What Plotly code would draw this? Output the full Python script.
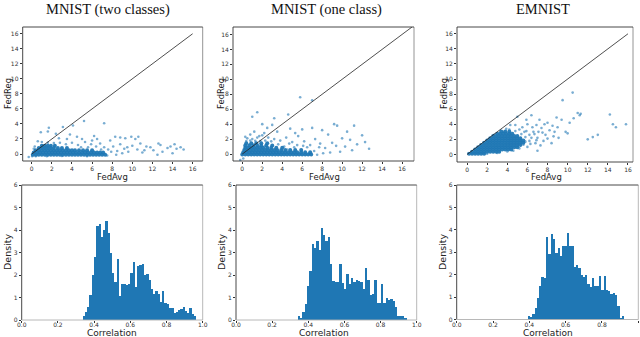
import numpy as np
import plotly.graph_objects as go

# ---------------- data ----------------
panel_titles = ["MNIST (two classes)", "MNIST (one class)", "EMNIST"]
scatter_ticks = [0, 2, 4, 6, 8, 10, 12, 14, 16]
hist_xticks = [0.0, 0.2, 0.4, 0.6, 0.8, 1.0]
hist_xticklabels = ["0.0", "0.2", "0.4", "0.6", "0.8", "1.0"]
hist_yticks = [0, 1, 2, 3, 4, 5, 6]
diag_ends = [16, 17, 16]

# Dense cores read as rows: (FedReg value, [FedAvg values])
two_classes_core_rows = [
    (-0.1, [0.1, 0.4, 0.7, 1.0, 1.3, 1.6, 1.9, 2.2, 2.5, 2.8, 3.1, 3.4, 3.7, 4.0, 4.3, 4.6, 4.9, 5.2,
            5.5, 5.8, 6.1, 6.4, 6.7, 7.0, 7.3]),
    (0.2, [0.2, 0.5, 0.8, 1.1, 1.4, 1.7, 2.0, 2.3, 2.6, 2.9, 3.2, 3.5, 3.8, 4.1, 4.4, 4.7, 5.0, 5.3,
           5.6, 5.9, 6.2, 6.5, 6.8, 7.1]),
    (0.5, [0.4, 0.7, 1.0, 1.3, 1.6, 1.9, 2.2, 2.5, 2.8, 3.1, 3.4, 3.7, 4.0, 4.3, 4.7, 5.1, 5.5, 6.0]),
    (0.8, [0.7, 1.0, 1.3, 1.6, 1.9, 2.2, 2.6, 3.0, 3.5]),
    (1.1, [1.0, 1.3, 1.6, 1.9, 2.3]),
]
two_classes_sparse = [
    (1.6, 1.5), (2.2, 1.45), (2.8, 1.5), (3.4, 1.3), (4.0, 1.5), (4.6, 1.2), (5.3, 1.6), (5.9, 1.3),
    (6.4, 1.0), (6.8, 1.4), (7.2, 0.9), (7.6, 0.6), (8.1, 1.0), (8.5, 0.4), (8.8, 1.3), (9.2, 0.7),
    (9.6, 0.3), (10.0, 1.1), (10.5, 0.6), (11.0, 0.2), (11.4, 1.0), (12.1, 0.5), (12.6, 1.4), (13.0, 0.3),
    (13.5, 0.8), (14.0, 0.1), (14.4, 0.7), (14.8, 0.9), (15.1, 0.6), (8.3, 2.3), (8.8, 2.2), (9.3, 2.1),
    (9.9, 2.3), (10.3, 2.0), (6.2, 2.4), (5.0, 2.0), (3.8, 2.6), (2.4, 2.7), (1.6, 3.0), (0.9, 2.9),
    (1.7, 3.5), (3.1, 3.6), (4.1, 3.8), (5.2, 4.4), (7.2, 4.1), (6.5, 2.0), (4.5, 2.3), (7.8, 1.8),
    (12.8, 1.2), (11.8, 0.9), (0.6, 1.7), (1.0, 1.6), (0.3, 1.0), (0.2, 0.7), (0.05, -0.3), (-0.3, -0.4),
    (0.4, -0.3), (1.5, -0.3), (3.0, -0.25), (5.5, -0.3), (7.5, -0.2), (12.5, -0.1), (14.2, 1.3),
    (7.9, 0.3), (8.4, -0.1), (9.0, 0.1), (9.5, 0.9), (10.8, 1.4), (11.2, 0.5), (6.0, 1.8), (3.5, 2.0),
    (2.7, 2.1), (5.6, 0.9), (6.9, 0.6), (4.9, 0.9), (10.6, 2.3), (13.8, 1.0),
]

one_class_core_rows = [
    (-0.05, [0.0, 0.3, 0.6, 0.9, 1.2, 1.5, 1.8, 2.1, 2.4, 2.7, 3.0, 3.3, 3.6, 3.9, 4.2, 4.5, 4.8, 5.1,
             5.4, 5.7, 6.0, 6.3, 6.6, 6.9]),
    (0.25, [0.1, 0.4, 0.7, 1.0, 1.3, 1.6, 1.9, 2.2, 2.5, 2.8, 3.1, 3.4, 3.7, 4.0, 4.3, 4.6, 4.9, 5.2,
            5.5, 5.9, 6.3, 6.8]),
    (0.55, [0.2, 0.5, 0.8, 1.1, 1.4, 1.7, 2.0, 2.3, 2.6, 2.9, 3.2, 3.5, 3.9, 4.3, 4.8, 5.3, 5.9]),
    (0.85, [0.3, 0.6, 0.9, 1.2, 1.5, 1.8, 2.1, 2.5, 2.9, 3.4, 4.0]),
    (1.15, [0.3, 0.7, 1.1, 1.5, 1.9, 2.4, 3.0]),
    (1.45, [0.4, 0.9, 1.4, 1.9, 2.5]),
]
one_class_sparse = [
    (0.4, 1.75), (0.8, 1.8), (1.3, 1.78), (1.8, 1.75), (2.3, 1.8), (2.9, 1.7), (3.6, 1.3), (4.2, 1.0),
    (0.5, 2.1), (1.0, 2.0), (1.5, 2.2), (2.0, 2.5), (2.6, 2.2), (3.2, 2.0), (3.8, 1.8), (4.4, 2.2),
    (5.0, 1.6), (5.6, 2.4), (6.2, 1.7), (6.8, 1.2), (7.3, 2.0), (7.8, 1.4), (8.3, 0.8), (8.6, 2.6),
    (9.0, 1.5), (9.5, 3.8), (10.0, 2.1), (10.3, 1.0), (10.8, 1.9), (11.2, 3.8), (11.5, 1.3), (12.0, 2.5),
    (12.7, 0.7), (8.0, 3.2), (7.0, 3.5), (6.0, 3.3), (4.8, 3.4), (3.5, 3.0), (2.5, 3.5), (3.2, 4.8),
    (1.0, 5.0), (1.5, 5.6), (4.6, 5.3), (5.8, 7.6), (7.0, 7.2), (2.0, 4.0), (1.2, 3.0), (0.8, 2.6),
    (-0.2, -0.8), (0.1, -0.6), (7.5, -0.1), (9.8, 0.3), (11.0, 0.5), (8.8, 0.2), (6.5, 0.9), (5.5, 1.2),
    (4.7, 1.4), (10.5, 3.0), (12.3, 1.6), (9.2, 4.0), (3.0, 3.9), (5.3, 2.8), (7.2, 0.4), (7.7, 0.9),
    (8.1, 0.1), (9.4, 1.1), (6.1, 1.1), (5.2, 0.9), (4.5, 0.6), (2.2, 2.8), (1.7, 2.4), (0.3, 2.3),
]

emnist_core_rows = [
    (0.1, [0.2, 0.5, 0.8, 1.1, 1.4, 1.7]),
    (0.35, [0.5, 0.8, 1.1, 1.4, 1.7, 2.0, 2.3, 2.6, 2.9, 3.2]),
    (0.65, [0.8, 1.1, 1.4, 1.7, 2.0, 2.3, 2.6, 2.9, 3.2, 3.5, 3.8, 4.1, 4.4]),
    (0.95, [1.1, 1.4, 1.7, 2.0, 2.3, 2.6, 2.9, 3.2, 3.5, 3.8, 4.1, 4.4, 4.7, 5.0]),
    (1.25, [1.4, 1.7, 2.0, 2.3, 2.6, 2.9, 3.2, 3.5, 3.8, 4.1, 4.4, 4.7, 5.0, 5.3]),
    (1.55, [1.7, 2.0, 2.3, 2.6, 2.9, 3.2, 3.5, 3.8, 4.1, 4.4, 4.7, 5.0, 5.3, 5.6]),
    (1.85, [2.0, 2.3, 2.6, 2.9, 3.2, 3.5, 3.8, 4.1, 4.4, 4.7, 5.0, 5.3, 5.6]),
    (2.15, [2.3, 2.6, 2.9, 3.2, 3.5, 3.8, 4.1, 4.4, 4.7, 5.0, 5.3]),
    (2.45, [2.6, 2.9, 3.2, 3.5, 3.8, 4.1, 4.4, 4.7, 5.0]),
    (2.75, [3.0, 3.3, 3.6, 3.9, 4.2, 4.5]),
    (3.05, [3.4, 3.8, 4.2]),
]
emnist_sparse = [
    (5.4, 2.7), (5.8, 1.7), (5.8, 2.3), (6.2, 1.8), (6.2, 2.6), (5.9, 3.1), (6.4, 2.2), (6.7, 2.7),
    (5.6, 1.3), (6.0, 1.0), (5.2, 0.8), (4.8, 3.1), (5.7, 3.0), (5.2, 3.3), (6.9, 1.9), (7.5, 2.9),
    (6.6, 3.0), (7.0, 2.2), (7.4, 3.5), (7.8, 2.6), (8.2, 3.2), (8.6, 2.4), (9.0, 3.6), (9.4, 4.6),
    (9.8, 3.0), (10.2, 4.2), (8.0, 4.2), (7.2, 4.6), (6.4, 5.2), (5.5, 3.6), (4.8, 3.9), (4.2, 3.3),
    (6.0, 4.0), (5.0, 5.0), (9.5, 7.2), (10.5, 8.2), (11.0, 5.5), (11.2, 5.2), (11.3, 5.4), (10.6, 4.8),
    (12.0, 2.0), (12.5, 2.3), (13.0, 2.6), (10.0, 2.8), (7.0, 0.5), (14.2, 5.3), (14.5, 4.0), (14.8, 3.6),
    (15.8, 4.0), (8.9, 4.9), (6.8, 1.5), (3.0, 0.2), (2.0, 0.1), (4.0, 0.4), (4.6, 0.5), (3.6, 3.0),
    (2.7, 2.6), (6.5, 3.6), (7.6, 1.8), (8.4, 1.5), (9.1, 2.2), (7.1, 3.0), (6.9, 3.9), (8.7, 3.0),
    (3.9, 3.4), (4.3, 3.9), (5.9, 4.6), (6.3, 1.4), (7.3, 1.2), (8.0, 2.1), (8.5, 3.8), (7.7, 4.0),
]

# histogram of correlation: first bin left edge, bin width, densities
two_classes_bin_start = 0.335
two_classes_bin_width = 0.01256
two_classes_density = [
    0.2, 0.35, 0.6, 1.1, 2.0, 2.8, 4.2, 4.25, 3.7, 4.0,
    4.4, 3.85, 3.0, 2.1, 1.7, 2.7, 1.05, 1.6, 1.6, 1.55,
    1.6, 2.1, 2.6, 1.45, 2.4, 2.45, 2.5, 2.0, 2.05, 1.8,
    1.4, 1.15, 1.3, 1.15, 0.8, 1.3, 0.75, 0.72, 0.55, 0.55,
    0.3, 0.35, 0.43, 0.47, 0.6, 0.4, 0.3, 0.55, 0.28, 0.2,
]

one_class_bin_start = 0.3413
one_class_bin_width = 0.01283
one_class_density = [
    0.2, 0.05, 0.35, 0.7, 1.5, 2.2, 3.4, 3.2, 3.5, 3.1,
    4.1, 3.8, 3.5, 3.7, 2.5, 1.75, 1.7, 1.7, 2.5, 1.65,
    1.4, 2.05, 1.6, 1.85, 1.7, 1.8, 1.75, 1.7, 1.4, 2.3,
    1.8, 1.1, 1.15, 1.8, 0.75, 0.75, 1.6, 0.75, 1.0, 0.9,
    0.92, 0.85, 0.6, 0.2, 0.2, 0.2, 0.05,
]

emnist_bin_start = 0.389
emnist_bin_width = 0.01267
emnist_density = [
    0.15, 0.1, 0.25, 0.5, 0.95, 1.5, 1.9, 1.85, 3.7, 2.9,
    3.8, 3.6, 2.95, 3.2, 2.85, 3.3, 3.3, 3.85, 3.3, 3.3,
    2.35, 2.45, 2.3, 2.0, 1.9, 2.0, 1.6, 1.45, 1.85, 1.5,
    1.5, 1.95, 1.3, 1.95, 1.3, 1.25, 1.15, 1.2, 1.1, 0.6,
    0.05, 0.15,
]

# ---------------- layout geometry (pixels) ----------------
W, H = 640, 337
BLUE = "#1f77b4"
TICK_FONT = dict(family="DejaVu Sans", size=6, color="#333333")
LABEL_FONT = dict(family="DejaVu Sans", size=8.5, color="#222222")


def dx(a, b):
    return [a / W, b / W]


def dy(top, bottom):
    return [1 - bottom / H, 1 - top / H]


def rows_to_xy(rows):
    xs, ys = [], []
    for yv, xlist in rows:
        for xv in xlist:
            xs.append(xv)
            ys.append(yv)
    return xs, ys


scatter_panels = [
    dict(core=two_classes_core_rows, sparse=two_classes_sparse, diag=diag_ends[0],
         xd=(22.7, 202.7), yd=(27, 161), xr=[-0.9, 17.0], yr=[-0.93, 16.9]),
    dict(core=one_class_core_rows, sparse=one_class_sparse, diag=diag_ends[1],
         xd=(233, 414), yd=(27, 161), xr=[-0.93, 17.2], yr=[-0.93, 17.0]),
    dict(core=emnist_core_rows, sparse=emnist_sparse, diag=diag_ends[2],
         xd=(457, 633), yd=(27, 162), xr=[-1.0, 16.5], yr=[-1.0, 16.9]),
]
hist_panels = [
    dict(start=two_classes_bin_start, width=two_classes_bin_width, dens=two_classes_density,
         xd=(21.7, 202.7), yd=(185, 320)),
    dict(start=one_class_bin_start, width=one_class_bin_width, dens=one_class_density,
         xd=(236, 416.7), yd=(185, 320)),
    dict(start=emnist_bin_start, width=emnist_bin_width, dens=emnist_density,
         xd=(456.7, 638.3), yd=(185, 319.5)),
]

fig = go.Figure()
layout = {}
shapes = []


def frame(ax_id, dark="#333333", light="#333333", light_sides=("right",)):
    xr = "x%s domain" % ax_id
    yr = "y%s domain" % ax_id
    sides = {
        "left": (0, 0, 0, 1),
        "right": (1, 0, 1, 1),
        "bottom": (0, 0, 1, 0),
        "top": (0, 1, 1, 1),
    }
    for name, (x0, y0, x1, y1) in sides.items():
        shapes.append(dict(type="line", xref=xr, yref=yr, x0=x0, y0=y0, x1=x1, y1=y1,
                           line=dict(color=light if name in light_sides else dark, width=0.9),
                           layer="above"))


for i, p in enumerate(scatter_panels):
    n = i + 1
    suffix = "" if n == 1 else str(n)
    sx = [pt[0] for pt in p["sparse"]]
    sy = [pt[1] for pt in p["sparse"]]
    cx, cy = rows_to_xy(p["core"])
    fig.add_trace(go.Scatter(x=sx, y=sy, mode="markers", xaxis="x" + suffix, yaxis="y" + suffix,
                             marker=dict(color=BLUE, size=2.6, opacity=0.6, line=dict(width=0)),
                             showlegend=False, hoverinfo="skip"))
    fig.add_trace(go.Scatter(x=cx, y=cy, mode="markers", xaxis="x" + suffix, yaxis="y" + suffix,
                             marker=dict(color=BLUE, size=4, opacity=0.95, line=dict(width=0)),
                             showlegend=False, hoverinfo="skip"))
    fig.add_trace(go.Scatter(x=[0, p["diag"]], y=[0, p["diag"]], mode="lines",
                             xaxis="x" + suffix, yaxis="y" + suffix,
                             line=dict(color="#222222", width=0.8), showlegend=False, hoverinfo="skip"))
    layout["xaxis" + suffix] = dict(domain=dx(*p["xd"]), range=p["xr"], tickvals=scatter_ticks,
                                    ticks="outside", ticklen=2, tickwidth=0.6, tickcolor="#333",
                                    tickfont=TICK_FONT, showgrid=False, zeroline=False, showline=False,
                                    anchor="y" + suffix, automargin=False)
    layout["yaxis" + suffix] = dict(domain=dy(*p["yd"]), range=p["yr"], tickvals=scatter_ticks,
                                    ticks="outside", ticklen=2, tickwidth=0.6, tickcolor="#333",
                                    tickfont=TICK_FONT, showgrid=False, zeroline=False, showline=False,
                                    anchor="x" + suffix, automargin=False)
    frame(suffix, dark="#333333", light="#888888", light_sides=("right",))

for i, p in enumerate(hist_panels):
    n = i + 4
    suffix = str(n)
    edges = p["start"] + p["width"] * np.arange(len(p["dens"]) + 1)
    centers = (edges[:-1] + edges[1:]) / 2
    fig.add_trace(go.Bar(x=centers, y=p["dens"], width=p["width"], xaxis="x" + suffix, yaxis="y" + suffix,
                         marker=dict(color=BLUE, line=dict(width=0)), showlegend=False, hoverinfo="skip"))
    layout["xaxis" + suffix] = dict(domain=dx(*p["xd"]), range=[0, 1], tickvals=hist_xticks,
                                    ticktext=hist_xticklabels, ticks="outside", ticklen=2, tickwidth=0.6,
                                    tickcolor="#333", tickfont=TICK_FONT, showgrid=False, zeroline=False,
                                    showline=False, anchor="y" + suffix, automargin=False,
                                    ticklabelstandoff=-3)
    layout["yaxis" + suffix] = dict(domain=dy(*p["yd"]), range=[0, 6], tickvals=hist_yticks,
                                    ticks="outside", ticklen=2, tickwidth=0.6, tickcolor="#333",
                                    tickfont=TICK_FONT, showgrid=False, zeroline=False, showline=False,
                                    anchor="x" + suffix, automargin=False)
    frame(suffix, dark="#333333", light="#b0b0b0", light_sides=("right", "bottom"))

annotations = []
title_x = [108, 326, 543]
for t, cxp in zip(panel_titles, title_x):
    annotations.append(dict(text=t, x=cxp / W, y=1 - 9 / H, xref="paper", yref="paper", showarrow=False,
                            xanchor="center", yanchor="middle",
                            font=dict(family="Liberation Serif", size=14.5, color="#111111")))

fedreg_x = [8, 221, 444]
fedavg_x = [112, 324, 546]
density_x = [8, 222, 443]
corr_x = [112, 324, 548]
for k in range(3):
    annotations.append(dict(text="FedReg", x=fedreg_x[k] / W, y=1 - 94 / H, xref="paper", yref="paper",
                            showarrow=False, textangle=-90, xanchor="center", yanchor="middle",
                            font=LABEL_FONT))
    annotations.append(dict(text="FedAvg", x=fedavg_x[k] / W, y=1 - 176.5 / H, xref="paper", yref="paper",
                            showarrow=False, xanchor="center", yanchor="middle", font=LABEL_FONT))
    annotations.append(dict(text="Density", x=density_x[k] / W, y=1 - 252 / H, xref="paper", yref="paper",
                            showarrow=False, textangle=-90, xanchor="center", yanchor="middle",
                            font=dict(family="DejaVu Sans", size=9.5, color="#222222")))
    annotations.append(dict(text="Correlation", x=corr_x[k] / W, y=1 - 332.5 / H, xref="paper",
                            yref="paper", showarrow=False, xanchor="center", yanchor="middle",
                            borderpad=0,
                            font=dict(family="DejaVu Sans", size=9, color="#222222")))

fig.update_layout(
    width=W, height=H, autosize=False,
    margin=dict(l=0, r=0, t=0, b=0, pad=0, autoexpand=False),
    paper_bgcolor="white", plot_bgcolor="white",
    shapes=shapes, annotations=annotations,
    bargap=0,
    **layout,
)

fig.write_html("out.html", config={"displayModeBar": False},
               post_script="document.body.style.margin='0';document.body.style.overflow='hidden';")
